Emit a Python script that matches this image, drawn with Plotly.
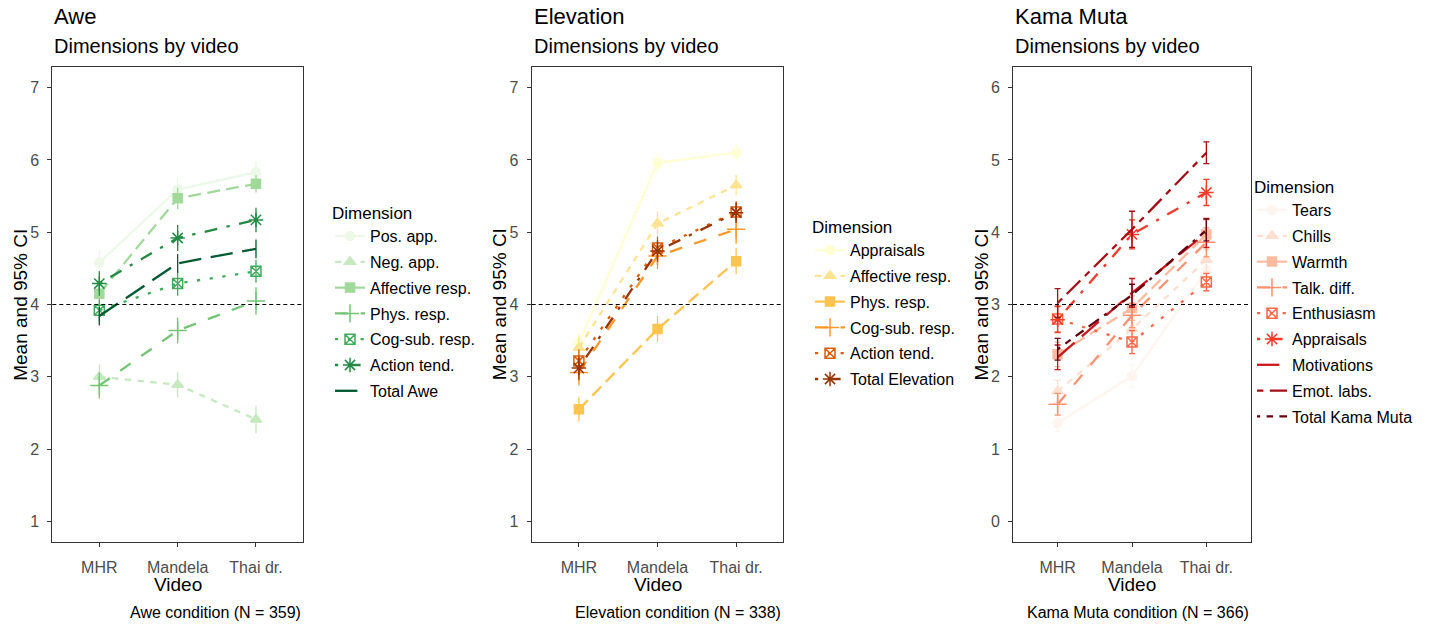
import plotly.graph_objects as go

# ---------------- data ----------------
videos = ["MHR", "Mandela", "Thai dr."]

awe_dims = ["Pos. app.", "Neg. app.", "Affective resp.", "Phys. resp.",
            "Cog-sub. resp.", "Action tend.", "Total Awe"]
awe_mean = [[4.58, 5.59, 5.83],
            [3.00, 2.89, 2.41],
            [4.15, 5.47, 5.67],
            [2.88, 3.64, 4.05],
            [3.92, 4.29, 4.46],
            [4.29, 4.92, 5.17],
            [3.84, 4.57, 4.77]]
awe_ci = [[0.17, 0.17, 0.15],
          [0.17, 0.18, 0.19],
          [0.15, 0.15, 0.12],
          [0.18, 0.18, 0.19],
          [0.15, 0.17, 0.16],
          [0.17, 0.18, 0.17],
          [0.13, 0.13, 0.13]]

elev_dims = ["Appraisals", "Affective resp.", "Phys. resp.", "Cog-sub. resp.",
             "Action tend.", "Total Elevation"]
elev_mean = [[3.47, 5.96, 6.10],
             [3.40, 5.12, 5.65],
             [2.55, 3.66, 4.60],
             [3.06, 4.67, 5.04],
             [3.22, 4.78, 5.28],
             [3.12, 4.74, 5.27]]
elev_ci = [[0.15, 0.14, 0.12],
           [0.17, 0.17, 0.14],
           [0.17, 0.18, 0.18],
           [0.18, 0.18, 0.20],
           [0.16, 0.16, 0.15],
           [0.16, 0.15, 0.14]]

km_dims = ["Tears", "Chills", "Warmth", "Talk. diff.", "Enthusiasm", "Appraisals",
           "Motivations", "Emot. labs.", "Total Kama Muta"]
km_mean = [[1.36, 2.01, 3.48],
           [1.80, 2.66, 3.62],
           [2.31, 2.95, 3.97],
           [1.62, 2.85, 3.86],
           [2.80, 2.48, 3.31],
           [2.79, 3.97, 4.55],
           [2.27, 3.16, 3.99],
           [3.02, 4.04, 5.10],
           [2.38, 3.13, 4.03]]
km_ci = [[0.12, 0.15, 0.15],
         [0.15, 0.17, 0.17],
         [0.17, 0.17, 0.20],
         [0.15, 0.17, 0.20],
         [0.18, 0.16, 0.12],
         [0.18, 0.20, 0.18],
         [0.17, 0.20, 0.20],
         [0.20, 0.25, 0.15],
         [0.15, 0.15, 0.15]]

awe_colors = ["#EDF8E9", "#C7E9C0", "#A1D99B", "#74C476", "#41AB5D", "#238B45", "#005A32"]
elev_colors = ["#FFFFD4", "#FEE391", "#FEC44F", "#FE9929", "#D95F0E", "#993404"]
km_colors = ["#FFF5F0", "#FEE0D2", "#FCBBA1", "#FC9272", "#FB6A4A", "#EF3B2C",
             "#CB181D", "#A50F15", "#67000D"]

titles = ["Awe", "Elevation", "Kama Muta"]
captions = ["Awe condition (N = 359)", "Elevation condition (N = 338)",
            "Kama Muta condition (N = 366)"]
ref_lines = [4, 4, 3]
y_ranges = [[0.71, 7.29], [0.71, 7.29], [-0.29, 6.29]]
y_ticks = [[1, 2, 3, 4, 5, 6, 7], [1, 2, 3, 4, 5, 6, 7], [0, 1, 2, 3, 4, 5, 6]]

# ---------------- styling ----------------
W, H = 1450, 625
FONT = "Liberation Sans, Arial, sans-serif"
UNIT = 3.2
lt_codes = ["solid", "22", "42", "44", "13", "1343", "73", "2262", "12223242"]
symbols = ["circle", "triangle-up", "square", "cross-thin-open", "square-x-open",
           "asterisk-open"]
sym_sizes = [9, 10, 9, 13, 10, 12]


def dash(code):
    if code == "solid":
        return "solid"
    return ",".join(f"{int(c, 16) * UNIT:.1f}px" for c in code)


def fx(p):
    return p / W


def fy(p):
    return 1 - p / H


panels_px = [(52.3, 303.0), (531.7, 783.3), (1013.0, 1251.0)]
top_px, bot_px = 66.7, 542.3
legend_pos = [(330, 197), (810, 211), (1252, 171)]
err_width = [0, 0, 3]

fig = go.Figure()

panel_data = [(awe_dims, awe_mean, awe_ci, awe_colors),
              (elev_dims, elev_mean, elev_ci, elev_colors),
              (km_dims, km_mean, km_ci, km_colors)]

for p, (dims, means, cis, cols) in enumerate(panel_data):
    xa = "x" if p == 0 else f"x{p + 1}"
    ya = "y" if p == 0 else f"y{p + 1}"
    lg = "legend" if p == 0 else f"legend{p + 1}"
    for i, name in enumerate(dims):
        has_marker = i < 6
        fig.add_trace(go.Scatter(
            x=videos, y=means[i], name=name,
            xaxis=xa, yaxis=ya, legend=lg, legendgroup=f"{p}-{i}",
            mode="lines+markers" if has_marker else "lines",
            line=dict(color=cols[i], width=2.3, dash=dash(lt_codes[i])),
            marker=dict(symbol=symbols[i] if has_marker else "circle",
                        size=sym_sizes[i] if has_marker else 6,
                        color=cols[i],
                        line=dict(color=cols[i], width=1.5)),
            error_y=dict(type="data", array=cis[i], visible=True,
                         color=cols[i], thickness=1.3, width=err_width[p]),
        ))

    axis_common = dict(showline=True, linecolor="#333333", linewidth=1, mirror=True,
                       ticks="outside", ticklen=4, tickcolor="#333333", tickwidth=1,
                       showgrid=False, zeroline=False,
                       tickfont=dict(family=FONT, size=16, color="#4D4D4D"))
    x0, x1 = panels_px[p]
    fig.layout[f"xaxis{'' if p == 0 else p + 1}"] = dict(
        axis_common, domain=[fx(x0), fx(x1)], anchor=ya,
        range=[-0.6, 2.6], type="category", ticklabelstandoff=6)
    fig.layout[f"yaxis{'' if p == 0 else p + 1}"] = dict(
        axis_common, domain=[fy(bot_px), fy(top_px)], anchor=xa,
        range=y_ranges[p], tickvals=y_ticks[p], ticklabelstandoff=5)

    # reference line
    fig.add_shape(type="line", xref=f"{xa} domain", yref=ya, x0=0, x1=1,
                  y0=ref_lines[p], y1=ref_lines[p],
                  line=dict(color="black", width=1.2, dash="4px,3px"), layer="above")

    # titles
    fig.add_annotation(text=titles[p], xref="paper", yref="paper", x=fx(x0), y=fy(16.3),
                       xanchor="left", yanchor="middle", showarrow=False,
                       font=dict(family=FONT, size=22, color="black"))
    fig.add_annotation(text="Dimensions by video", xref="paper", yref="paper",
                       x=fx(x0), y=fy(46.3), xanchor="left", yanchor="middle",
                       showarrow=False, font=dict(family=FONT, size=20, color="black"))
    fig.add_annotation(text=captions[p], xref="paper", yref="paper", x=fx(x1),
                       y=fy(612.4), xanchor="right", yanchor="middle", showarrow=False,
                       font=dict(family=FONT, size=16, color="black"))
    fig.add_annotation(text="Video", xref="paper", yref="paper", x=fx((x0 + x1) / 2),
                       y=fy(584), xanchor="center", yanchor="middle", showarrow=False,
                       font=dict(family=FONT, size=19, color="black"))
    fig.add_annotation(text="Mean and 95% CI", xref="paper", yref="paper",
                       x=fx(x0 - 32), y=fy((top_px + bot_px) / 2), textangle=-90,
                       xanchor="center", yanchor="middle", showarrow=False,
                       font=dict(family=FONT, size=19, color="black"))

    lx, ly = legend_pos[p]
    fig.layout[lg] = dict(x=fx(lx), y=fy(ly), xanchor="left", yanchor="top",
                          title=dict(text="Dimension", font=dict(family=FONT, size=17)),
                          font=dict(family=FONT, size=16, color="black"),
                          bgcolor="rgba(0,0,0,0)", tracegroupgap=2,
                          itemwidth=30)

fig.update_layout(width=W, height=H, margin=dict(l=0, r=0, t=0, b=0),
                  plot_bgcolor="white", paper_bgcolor="white",
                  font=dict(family=FONT))

fig.write_html("out.html")
